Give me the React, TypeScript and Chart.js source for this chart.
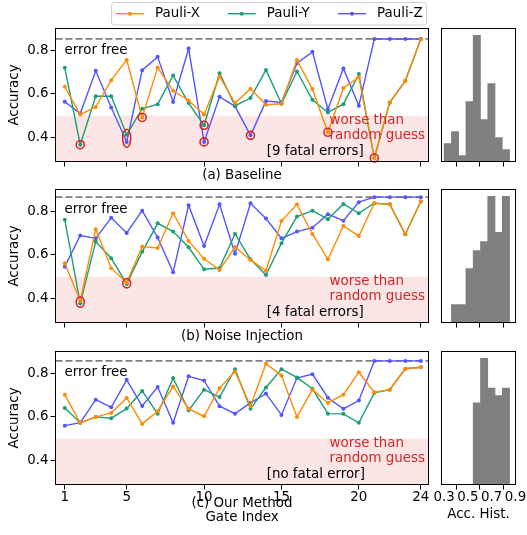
import React, { useEffect, useRef } from "react";
import { Chart, registerables } from "chart.js";
Chart.register(...registerables);

const W = 527;
const H = 535;
const FONT = "DejaVu Sans";
const FS = 13.4;

// ---------------- data ----------------
const gateIndex = [1, 2, 3, 4, 5, 6, 7, 8, 9, 10, 11, 12, 13, 14, 15, 16, 17, 18, 19, 20, 21, 22, 23, 24];
const xTickValues = [1, 5, 10, 15, 20, 24];
const yTickValues = [0.4, 0.6, 0.8];
const histTickValues = [0.3, 0.5, 0.7, 0.9];
const seriesNames = ["Pauli-X", "Pauli-Y", "Pauli-Z"];
const seriesColors = ["#ff8c00", "#1b9e77", "#5555ff"];

const baselineX = [0.633, 0.505, 0.54, 0.663, 0.756, 0.492, 0.721, 0.614, 0.57, 0.505, 0.68, 0.558, 0.624, 0.55, 0.555, 0.756, 0.622, 0.424, 0.627, 0.677, 0.306, 0.561, 0.66, 0.851];
const baselineY = [0.72, 0.367, 0.589, 0.589, 0.413, 0.532, 0.553, 0.685, 0.558, 0.456, 0.695, 0.546, 0.581, 0.71, 0.555, 0.703, 0.573, 0.515, 0.553, 0.691, 0.306, 0.561, 0.66, 0.851];
const baselineZ = [0.564, 0.51, 0.706, 0.538, 0.38, 0.709, 0.77, 0.563, 0.808, 0.38, 0.587, 0.543, 0.41, 0.567, 0.561, 0.741, 0.793, 0.53, 0.717, 0.546, 0.852, 0.852, 0.852, 0.852];

const noiseX = [0.562, 0.39, 0.718, 0.539, 0.473, 0.638, 0.632, 0.791, 0.664, 0.582, 0.531, 0.636, 0.577, 0.527, 0.756, 0.832, 0.696, 0.58, 0.733, 0.687, 0.837, 0.832, 0.695, 0.845];
const noiseY = [0.761, 0.378, 0.661, 0.585, 0.467, 0.614, 0.745, 0.707, 0.635, 0.534, 0.54, 0.696, 0.58, 0.508, 0.654, 0.776, 0.803, 0.764, 0.834, 0.791, 0.837, 0.832, 0.695, 0.845];
const noiseZ = [0.546, 0.689, 0.676, 0.77, 0.701, 0.803, 0.68, 0.52, 0.828, 0.641, 0.832, 0.605, 0.837, 0.767, 0.676, 0.707, 0.725, 0.787, 0.757, 0.842, 0.865, 0.865, 0.865, 0.865];

const oursX = [0.702, 0.573, 0.6, 0.618, 0.687, 0.568, 0.626, 0.74, 0.637, 0.603, 0.732, 0.808, 0.649, 0.844, 0.79, 0.6, 0.725, 0.664, 0.702, 0.805, 0.713, 0.725, 0.821, 0.828];
const oursY = [0.641, 0.573, 0.6, 0.594, 0.638, 0.719, 0.614, 0.778, 0.63, 0.725, 0.691, 0.819, 0.637, 0.735, 0.819, 0.781, 0.729, 0.615, 0.614, 0.573, 0.71, 0.725, 0.821, 0.828];
const oursZ = [0.56, 0.574, 0.679, 0.644, 0.77, 0.65, 0.737, 0.573, 0.786, 0.767, 0.649, 0.615, 0.664, 0.707, 0.609, 0.778, 0.796, 0.688, 0.637, 0.675, 0.857, 0.857, 0.857, 0.857];

const errorFree = [0.852, 0.865, 0.857];
const randomGuess = 0.5;
const panelCaptions = ["(a) Baseline", "(b) Noise Injection", "(c) Our Method"];
const fatalLabels = ["[9 fatal errors]", "[4 fatal errors]", "[no fatal error]"];

const histBinEdges = [0.3, 0.3611, 0.4222, 0.4833, 0.5444, 0.6056, 0.6667, 0.7278, 0.7889, 0.85];
const histBaseline = [3, 5, 1, 10, 21, 7, 13, 4, 2];
const histNoise = [0, 2, 2, 6, 8, 9, 14, 10, 14];
const histOurs = [0, 0, 0, 0, 11, 17, 13, 12, 13];

const panelSeries = [
  [baselineX, baselineY, baselineZ],
  [noiseX, noiseY, noiseZ],
  [oursX, oursY, oursZ],
];
const panelHists = [histBaseline, histNoise, histOurs];

// ---------------- layout ----------------
const PANEL_TOPS = [28.5, 189.5, 351.5];
const PANEL_H = 133;
const LINE_LEFT = 55.5;
const LINE_RIGHT = 428.5;
const HIST_LEFT = 441.5;
const HIST_RIGHT = 515.5;
const Y_MIN = 0.29;
const Y_MAX = 0.9;
const X_MIN = 0.4;
const X_MAX = 24.5;
const HX_MIN = 0.278;
const HX_MAX = 0.9;
const X_AXIS_H = 24;
const RED = "#d62728";

const font = (size = FS) => `${size}px '${FONT}'`;

function drawBox(ctx: CanvasRenderingContext2D, a: any) {
  ctx.save();
  ctx.strokeStyle = "#000";
  ctx.lineWidth = 1;
  ctx.strokeRect(a.left, a.top, a.right - a.left, a.bottom - a.top);
  ctx.restore();
}

function panelPlugin(p: number) {
  return {
    id: "panel" + p,
    beforeDatasetsDraw(chart: any) {
      const { ctx, chartArea: a, scales } = chart;
      const y5 = scales.y.getPixelForValue(randomGuess);
      ctx.save();
      ctx.fillStyle = "rgba(220,40,40,0.12)";
      ctx.fillRect(a.left, y5, a.right - a.left, a.bottom - y5);
      const yd = scales.y.getPixelForValue(errorFree[p]);
      ctx.strokeStyle = "#808080";
      ctx.lineWidth = 1.8;
      ctx.setLineDash([7, 3]);
      ctx.beginPath();
      ctx.moveTo(a.left, yd);
      ctx.lineTo(a.right, yd);
      ctx.stroke();
      ctx.restore();
    },
    afterDatasetsDraw(chart: any) {
      const { ctx, chartArea: a, scales } = chart;
      ctx.save();
      // red circles around fatal errors
      ctx.strokeStyle = RED;
      ctx.lineWidth = 1.6;
      for (let i = 0; i < gateIndex.length; i++) {
        const pys: number[] = [];
        panelSeries[p].forEach((s) => {
          if (s[i] < randomGuess) pys.push(scales.y.getPixelForValue(s[i]));
        });
        pys.sort((u, v) => u - v);
        const groups: number[][] = [];
        for (const py of pys) {
          const g = groups[groups.length - 1];
          if (g && py - g[g.length - 1] < 10) g.push(py);
          else groups.push([py]);
        }
        const px = scales.x.getPixelForValue(gateIndex[i]);
        for (const g of groups) {
          const lo = g[0];
          const hi = g[g.length - 1];
          const spread = hi - lo;
          ctx.beginPath();
          ctx.ellipse(px, (lo + hi) / 2, 4, 4 + spread / 2 + (spread > 4 ? 1.5 : 0), 0, 0, Math.PI * 2);
          ctx.stroke();
        }
      }
      // texts
      const y5 = scales.y.getPixelForValue(randomGuess);
      const yd = scales.y.getPixelForValue(errorFree[p]);
      ctx.font = font();
      ctx.textBaseline = "middle";
      ctx.textAlign = "left";
      ctx.fillStyle = "#000";
      ctx.fillText("error free", a.left + 9, yd + 12);
      ctx.fillStyle = RED;
      ctx.fillText("worse than", 329.5, y5 + 5.3);
      ctx.fillText("random guess", 329.5, y5 + 20.3);
      ctx.fillStyle = "#000";
      ctx.fillText(fatalLabels[p], 266.7, y5 + 36.3);
      ctx.restore();
    },
    afterDraw(chart: any) {
      const { ctx, chartArea: a } = chart;
      drawBox(ctx, a);
      ctx.save();
      ctx.fillStyle = "#000";
      ctx.font = font();
      // y title
      ctx.save();
      ctx.translate(15, (a.top + a.bottom) / 2);
      ctx.rotate(-Math.PI / 2);
      ctx.textAlign = "center";
      ctx.textBaseline = "middle";
      ctx.fillText("Accuracy", 0, 0);
      ctx.restore();
      // caption
      ctx.textAlign = "center";
      ctx.textBaseline = "middle";
      const cx = (a.left + a.right) / 2;
      if (p < 2) {
        ctx.fillText(panelCaptions[p], cx, a.bottom + 14.5);
      } else {
        ctx.fillText(panelCaptions[p], cx, 504);
        ctx.fillText("Gate Index", cx, 518);
      }
      // legend
      if (p === 0) {
        ctx.save();
        ctx.beginPath();
        (ctx as any).roundRect(111.5, 2.5, 315, 22.5, 3);
        ctx.fillStyle = "rgba(255,255,255,0.8)";
        ctx.fill();
        ctx.strokeStyle = "#d0d0d0";
        ctx.lineWidth = 1;
        ctx.stroke();
        const lx = [116, 227.7, 338];
        seriesNames.forEach((name, k) => {
          const ly = 13.7;
          ctx.strokeStyle = seriesColors[k];
          ctx.lineWidth = 1.4;
          ctx.beginPath();
          ctx.moveTo(lx[k], ly);
          ctx.lineTo(lx[k] + 28, ly);
          ctx.stroke();
          ctx.fillStyle = seriesColors[k];
          ctx.beginPath();
          ctx.arc(lx[k] + 14, ly, 2, 0, Math.PI * 2);
          ctx.fill();
          ctx.fillStyle = "#000";
          ctx.textAlign = "left";
          ctx.textBaseline = "middle";
          ctx.fillText(name, lx[k] + 39, ly);
        });
        ctx.restore();
      }
      ctx.restore();
    },
  };
}

function histPlugin(p: number) {
  return {
    id: "hist" + p,
    afterDraw(chart: any) {
      const { ctx, chartArea: a } = chart;
      drawBox(ctx, a);
      if (p === 2) {
        ctx.save();
        ctx.fillStyle = "#000";
        ctx.font = font();
        ctx.textAlign = "center";
        ctx.textBaseline = "middle";
        ctx.fillText("Acc. Hist.", (a.left + a.right) / 2, 515);
        ctx.restore();
      }
    },
  };
}

function lineConfig(p: number): any {
  const top = PANEL_TOPS[p];
  const bottom = top + PANEL_H;
  const showLabels = p === 2;
  return {
    type: "line",
    data: {
      datasets: panelSeries[p].map((s, k) => ({
        label: seriesNames[k],
        data: gateIndex.map((x, i) => ({ x, y: s[i] })),
        borderColor: seriesColors[k],
        backgroundColor: seriesColors[k],
        pointBackgroundColor: seriesColors[k],
        pointBorderWidth: 0,
        pointRadius: 2,
        borderWidth: 1.4,
        tension: 0,
        fill: false,
      })),
    },
    options: {
      animation: false,
      responsive: false,
      maintainAspectRatio: false,
      devicePixelRatio: 1,
      layout: { padding: { left: 0, top, right: W - LINE_RIGHT, bottom: H - bottom - X_AXIS_H } },
      plugins: { legend: { display: false }, tooltip: { enabled: false } },
      scales: {
        x: {
          type: "linear",
          min: X_MIN,
          max: X_MAX,
          afterBuildTicks: (s: any) => {
            s.ticks = xTickValues.map((v) => ({ value: v }));
          },
          afterFit: (s: any) => {
            s.height = X_AXIS_H;
          },
          grid: { drawOnChartArea: false, drawTicks: true, tickLength: 5, tickColor: "#000", tickWidth: 1 },
          border: { display: false },
          ticks: { display: showLabels, font: { family: FONT, size: FS }, color: "#000", padding: 0, maxRotation: 0, autoSkip: false, callback: (v: any) => String(v) },
        },
        y: {
          type: "linear",
          min: Y_MIN,
          max: Y_MAX,
          afterBuildTicks: (s: any) => {
            s.ticks = yTickValues.map((v) => ({ value: v }));
          },
          afterFit: (s: any) => {
            s.width = LINE_LEFT;
          },
          grid: { drawOnChartArea: false, drawTicks: true, tickLength: 5, tickColor: "#000", tickWidth: 1 },
          border: { display: false },
          ticks: { font: { family: FONT, size: FS }, color: "#000", padding: 2, callback: (v: any) => Number(v).toFixed(1) },
        },
      },
    },
    plugins: [panelPlugin(p)],
  };
}

function histConfig(p: number): any {
  const top = PANEL_TOPS[p];
  const bottom = top + PANEL_H;
  const counts = panelHists[p];
  const centers = counts.map((_, k) => (histBinEdges[k] + histBinEdges[k + 1]) / 2);
  const maxC = Math.max(...counts);
  return {
    type: "bar",
    data: {
      datasets: [
        {
          data: centers.map((c, k) => ({ x: c, y: counts[k] })),
          backgroundColor: "rgb(128,128,128)",
          borderWidth: 0,
          barPercentage: 1,
          categoryPercentage: 1,
        },
      ],
    },
    options: {
      animation: false,
      responsive: false,
      maintainAspectRatio: false,
      devicePixelRatio: 1,
      layout: { padding: { left: HIST_LEFT, top, right: W - HIST_RIGHT, bottom: H - bottom - X_AXIS_H } },
      plugins: { legend: { display: false }, tooltip: { enabled: false } },
      scales: {
        x: {
          type: "linear",
          offset: false,
          min: HX_MIN,
          max: HX_MAX,
          afterBuildTicks: (s: any) => {
            s.ticks = histTickValues.map((v) => ({ value: v }));
          },
          afterFit: (s: any) => {
            s.height = X_AXIS_H;
          },
          grid: { drawOnChartArea: false, drawTicks: true, tickLength: 5, tickColor: "#000", tickWidth: 1 },
          border: { display: false },
          ticks: { display: p === 2, font: { family: FONT, size: FS }, color: "#000", padding: 0, maxRotation: 0, autoSkip: false, callback: (v: any) => Number(v).toFixed(1) },
        },
        y: { display: false, min: 0, max: maxC * 1.055 },
      },
    },
    plugins: [histPlugin(p)],
  };
}

function ChartCanvas({ config }: { config: any }) {
  const ref = useRef<HTMLCanvasElement | null>(null);
  useEffect(() => {
    if (!ref.current) return;
    const chart = new Chart(ref.current, config);
    return () => chart.destroy();
  }, []);
  return (
    <canvas
      ref={ref}
      width={W}
      height={H}
      style={{ position: "absolute", left: 0, top: 0, width: W, height: H }}
    />
  );
}

export default function App() {
  return (
    <div style={{ position: "absolute", left: 0, top: 0, width: W, height: H, background: "#fff", overflow: "hidden" }}>
      {[0, 1, 2].map((p) => (
        <ChartCanvas key={"l" + p} config={lineConfig(p)} />
      ))}
      {[0, 1, 2].map((p) => (
        <ChartCanvas key={"h" + p} config={histConfig(p)} />
      ))}
    </div>
  );
}
